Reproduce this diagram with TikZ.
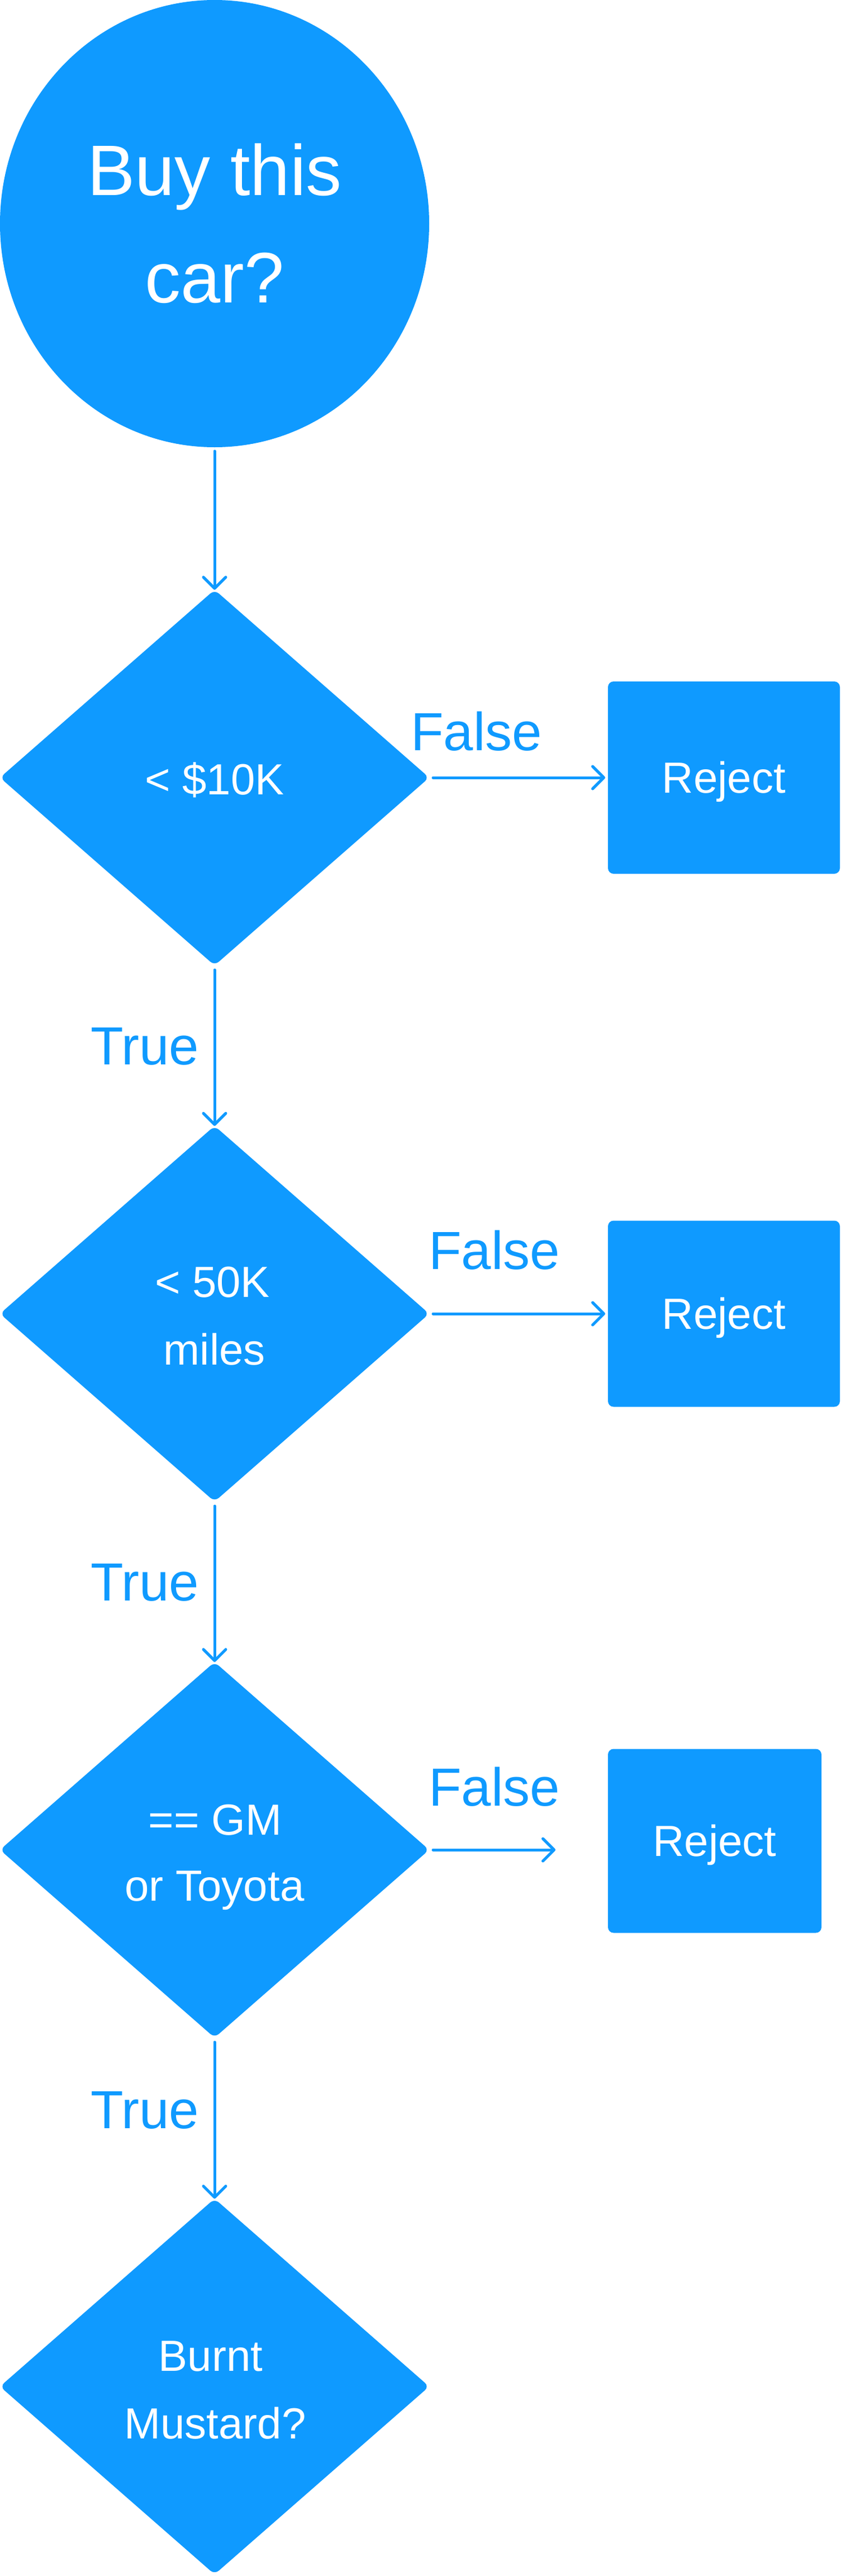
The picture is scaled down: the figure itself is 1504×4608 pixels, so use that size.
\documentclass[tikz,border=0pt]{standalone}
\usepackage{fontspec}
\setmainfont{Liberation Sans}
\usetikzlibrary{arrows.meta,shapes.geometric}
\definecolor{blu}{RGB}{15,154,255}
\begin{document}
\begin{tikzpicture}[x=0.5pt,y=-0.5pt,
  every node/.style={inner sep=0pt, outer sep=0pt},
  startnode/.style={ellipse, fill=blu, minimum width=384pt, minimum height=400pt},
  dia/.style={diamond, fill=blu, minimum width=384pt, minimum height=336pt, rounded corners=5pt},
  rej/.style={rectangle, fill=blu, rounded corners=5pt, text=white,
    font=\fontsize{39pt}{39pt}\selectfont, text height=27.9pt, text depth=0pt},
  bigtxt/.style={text=white, font=\fontsize{64pt}{64pt}\selectfont, anchor=base},
  intxt/.style={text=white, font=\fontsize{39pt}{39pt}\selectfont, anchor=base},
  lbl/.style={text=blu, font=\fontsize{48pt}{48pt}\selectfont, anchor=base west},
  arr/.style={draw=blu, line width=2.5pt, line cap=round,
    -{Straight Barb[length=10pt,width=20pt,round]}},
]
\useasboundingbox (0,0) rectangle (1504,4608);

% shapes
\node[startnode] (c) at (384,400) {};
\node[dia] (d1) at (384,1391) {};
\node[dia] (d2) at (384,2350) {};
\node[dia] (d3) at (384,3309) {};
\node[dia] (d4) at (384,4269) {};
\node[rej, minimum width=207.5pt, minimum height=172pt] (r1) at (1295.5,1391) {Reject};
\node[rej, minimum width=207.5pt, minimum height=166.5pt] (r2) at (1295.5,2350) {Reject};
\node[rej, minimum width=191pt, minimum height=164.5pt] (r3) at (1279,3293) {Reject};
\coordinate (f3end) at (994,3309);

% texts in shapes
\node[bigtxt] (ct1) at (384,349) {Buy this};
\node[bigtxt] (ct2) at (384,541) {car?};
\node[intxt] (d1t) at (384,1421) {< \$10K};
\node[intxt] (d2a) at (380,2320) {< 50K};
\node[intxt] (d2b) at (384,2441) {miles};
\node[intxt] (d3a) at (385,3282) {== GM};
\node[intxt] (d3b) at (384,3400) {or Toyota};
\node[intxt] (d4a) at (377,4241) {Burnt};
\node[intxt] (d4b) at (385,4362) {Mustard?};

% connectors
\draw[arr, shorten <=3.5pt] (c.south) -- (d1.north);
\draw[arr, shorten <=4pt] (d1.south) -- (d2.north);
\draw[arr, shorten <=4pt] (d2.south) -- (d3.north);
\draw[arr, shorten <=4pt] (d3.south) -- (d4.north);
\draw[arr, shorten <=3.5pt, shorten >=2.5pt] (d1.east) -- (r1.west);
\draw[arr, shorten <=3.5pt, shorten >=2.5pt] (d2.east) -- (r2.west);
\draw[arr, shorten <=3.5pt] (d3.east) -- (f3end);

% labels
\node[lbl] (fl1) at (735,1342) {False};
\node[lbl] (fl2) at (767,2270) {False};
\node[lbl] (fl3) at (767,3230) {False};
\node[lbl] (tl1) at (162,1904) {True};
\node[lbl] (tl2) at (162,2863) {True};
\node[lbl] (tl3) at (162,3807) {True};
\end{tikzpicture}
\end{document}
